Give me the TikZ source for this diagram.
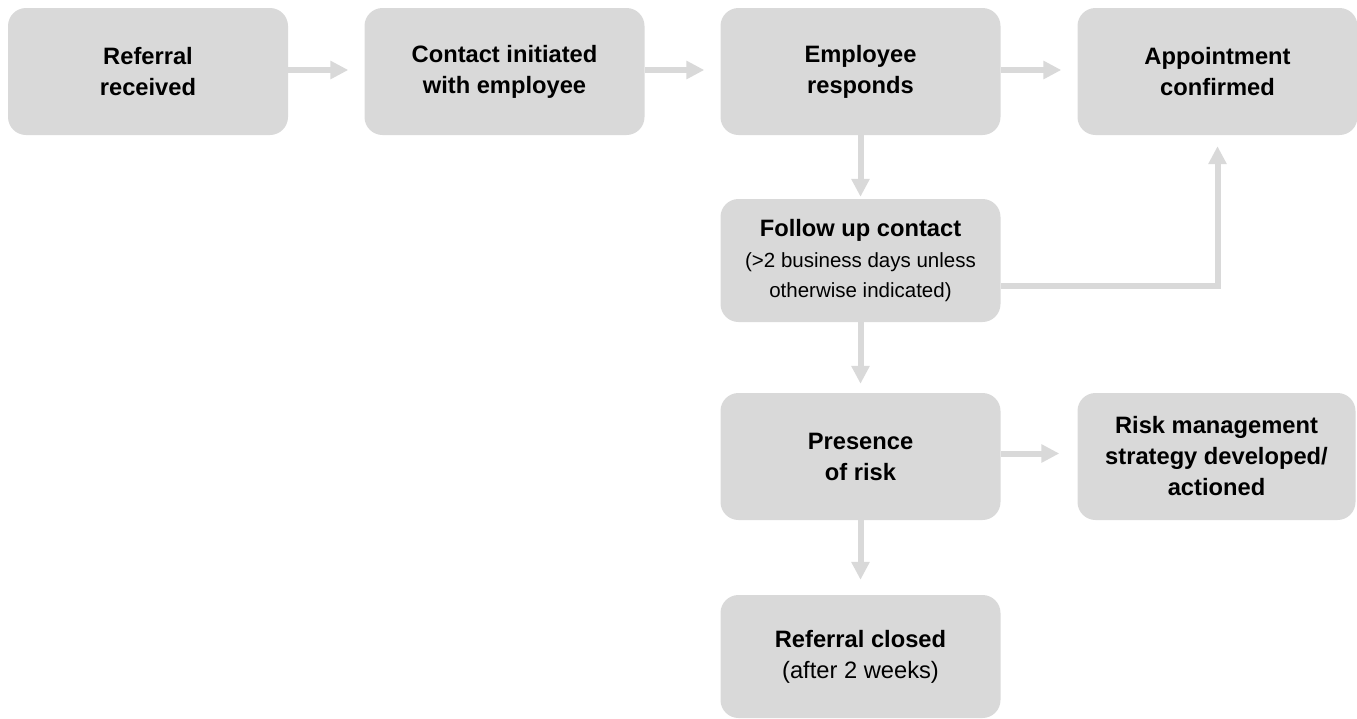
\documentclass[tikz,border=0pt]{standalone}
\usepackage{fontspec}
\setmainfont{Liberation Sans}
\usetikzlibrary{arrows.meta}
\definecolor{boxgray}{HTML}{D9D9D9}
\newcommand\subtxt{\fontsize{20.5}{29.4}\selectfont\mdseries}
\tikzset{
  box/.style={fill=boxgray, draw=none, rounded corners=18pt, align=center,
    inner sep=0pt, minimum width=280pt, minimum height=127pt,
    font=\fontsize{23.7}{31}\selectfont\bfseries},
  conn/.style={draw=boxgray, line width=6pt, line join=miter,
    -{Triangle[length=18pt,width=17.5pt]}},
}
\begin{document}
\begin{tikzpicture}[x=1pt,y=-1pt]
\useasboundingbox (0,0) rectangle (1357,718);
\node[box] (b1) at (148,71.5) {Referral\\received};
\node[box] (b2) at (504.5,71.5) {Contact initiated\\with employee};
\node[box] (b3) at (860.5,71.5) {Employee\\responds};
\node[box] (b4) at (1217.5,71.5) {Appointment\\confirmed};
\node[box, minimum height=123pt] (b5) at (860.5,260.5) {Follow up contact\\[0pt]\subtxt (>2 business days unless\\[-1pt]\subtxt otherwise indicated)};
\node[box] (b6) at (860.5,456.5) {Presence\\of risk};
\node[box, minimum width=278pt] (b7) at (1216.5,456.5) {Risk management\\strategy developed/\\actioned};
\node[box, minimum height=123pt] (b8) at (860.5,656.5) {Referral closed\\\mdseries (after 2 weeks)};
\draw[conn, shorten >=16pt] ([yshift=1.5pt]b1.east) -- ([yshift=1.5pt]b2.west);
\draw[conn, shorten >=16pt] ([yshift=1.5pt]b2.east) -- ([yshift=1.5pt]b3.west);
\draw[conn, shorten >=16pt] ([yshift=1.5pt]b3.east) -- ([yshift=1.5pt]b4.west);
\draw[conn, shorten >=2pt] (b3.south) -- (b5.north);
\draw[conn, shorten >=9pt] (b5.south) -- (b6.north);
\draw[conn, shorten >=15pt] (b6.south) -- (b8.north);
\draw[conn, shorten >=18pt] ([yshift=3pt]b6.east) -- ([yshift=3pt]b7.west);
\draw[conn, shorten >=11pt] ([yshift=-25.5pt]b5.east) -| (b4.south);
\end{tikzpicture}
\end{document}
